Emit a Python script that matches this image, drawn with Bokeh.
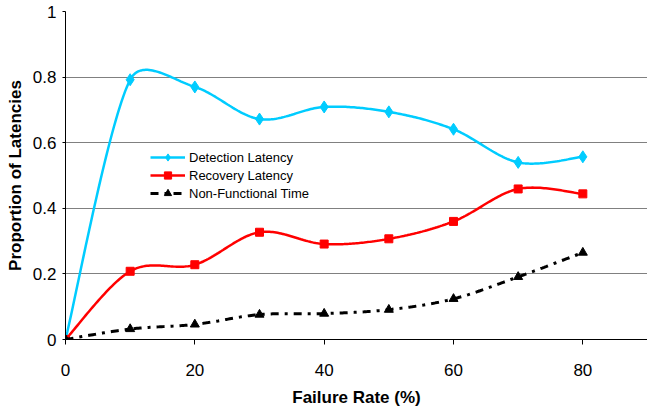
import numpy as np
from bokeh.plotting import figure
from bokeh.models import FixedTicker, Legend, LegendItem, Range1d
from bokeh.embed import file_html
from bokeh.resources import INLINE

failure_rate = [0, 10, 20, 30, 40, 50, 60, 70, 80]
detection = [0.0, 0.792, 0.770, 0.672, 0.709, 0.694, 0.641, 0.540, 0.557]
recovery = [0.0, 0.208, 0.228, 0.327, 0.291, 0.307, 0.360, 0.459, 0.444]
non_functional = [0.0, 0.032, 0.046, 0.076, 0.079, 0.091, 0.124, 0.191, 0.265]

x_ticks = [0, 20, 40, 60, 80]
y_ticks = [0, 0.2, 0.4, 0.6, 0.8, 1.0]
y_tick_labels = ["0", "0.2", "0.4", "0.6", "0.8", "1"]

FONT = "Liberation Sans"
W, H = 647, 409
BL, BT, BR, BB = 65, 11, 0, 69
X_MAX, Y_MAX = 90, 1.0
SX = (W - BL - BR) / X_MAX   # px per x unit
SY = (H - BT - BB) / Y_MAX   # px per y unit


def smooth(xs, ys, n=40, f=1 / 6, clip=0.4):
    """Excel-like smoothed line: Bezier segments, tangents computed in screen space."""
    xs = np.asarray(xs, float) * SX
    ys = np.asarray(ys, float) * SY
    pts = np.stack([xs, ys], axis=1)
    P = np.vstack([pts[0], pts, pts[-1]])
    out = []
    t = np.linspace(0, 1, n)[:, None]
    for i in range(1, len(P) - 2):
        p0, p3 = P[i], P[i + 1]
        seg = np.linalg.norm(p3 - p0)
        a = (P[i + 1] - P[i - 1]) * f
        b = (P[i + 2] - P[i]) * f
        la, lb = np.linalg.norm(a), np.linalg.norm(b)
        if la > clip * seg and la > 0:
            a = a * clip * seg / la
        if lb > clip * seg and lb > 0:
            b = b * clip * seg / lb
        p1 = p0 + a
        p2 = p3 - b
        c = (1 - t) ** 3 * p0 + 3 * (1 - t) ** 2 * t * p1 + 3 * (1 - t) * t ** 2 * p2 + t ** 3 * p3
        out.append(c if i == 1 else c[1:])
    c = np.vstack(out)
    return list(c[:, 0] / SX), list(c[:, 1] / SY)


p = figure(width=W, height=H, output_backend="svg", toolbar_location=None,
           x_range=Range1d(0, X_MAX), y_range=Range1d(0, Y_MAX),
           min_border_left=BL, min_border_top=BT, min_border_right=BR, min_border_bottom=BB)
p.outline_line_color = None
p.background_fill_color = "white"

# Axes
p.xaxis.ticker = FixedTicker(ticks=x_ticks)
p.yaxis.ticker = FixedTicker(ticks=y_ticks)
p.yaxis.major_label_overrides = {t: l for t, l in zip(y_ticks, y_tick_labels)}
for ax in (p.xaxis, p.yaxis):
    ax.major_label_text_font = FONT
    ax.major_label_text_font_size = "17px"
    ax.major_label_text_color = "black"
    ax.axis_label_text_font = FONT
    ax.axis_label_text_font_size = "17px"
    ax.axis_label_text_font_style = "bold"
    ax.axis_label_text_color = "black"
    ax.axis_line_color = "black"
    ax.major_tick_line_color = "black"
    ax.minor_tick_line_color = None
    ax.major_tick_in = 0
p.xaxis.major_tick_out = 5
p.yaxis.major_tick_out = 3
p.xaxis.major_label_standoff = 19
p.yaxis.major_label_standoff = 6
p.xaxis.axis_label_standoff = 9
p.yaxis.axis_label_standoff = 5
p.xaxis.axis_label = "Failure Rate (%)"
p.yaxis.axis_label = "Proportion of Latencies"

p.xgrid.grid_line_color = None
p.ygrid.grid_line_color = "#808080"
p.ygrid.grid_line_width = 1

# Series
sx, sy = smooth(failure_rate, detection)
l1 = p.line(sx, sy, line_color="#00CCFF", line_width=2.5)
m1 = p.scatter(failure_rate, detection, marker="diamond", size=12,
               fill_color="#00CCFF", line_color="#00CCFF")

sx, sy = smooth(failure_rate, recovery)
l2 = p.line(sx, sy, line_color="#FF0000", line_width=2.5)
m2 = p.scatter(failure_rate, recovery, marker="square", size=8,
               fill_color="#FF0000", line_color="#FF0000")

sx, sy = smooth(failure_rate, non_functional)
l3 = p.line(sx, sy, line_color="black", line_width=3, line_dash="8 6 3 6")
m3 = p.scatter(failure_rate, non_functional, marker="triangle", size=9,
               fill_color="black", line_color="black")

legend = Legend(items=[
    LegendItem(label="Detection Latency", renderers=[l1, m1]),
    LegendItem(label="Recovery Latency", renderers=[l2, m2]),
    LegendItem(label="Non-Functional Time", renderers=[l3, m3]),
], location=(85, 137))
legend.label_text_font = FONT
legend.label_text_font_size = "13px"
legend.label_text_color = "black"
legend.label_standoff = 4
legend.glyph_width = 35
legend.glyph_height = 18
legend.label_height = 18
legend.spacing = 0
legend.padding = 0
legend.margin = 0
legend.border_line_color = None
legend.background_fill_alpha = 0
p.add_layout(legend)

open("out.html", "w").write(file_html(p, INLINE))
